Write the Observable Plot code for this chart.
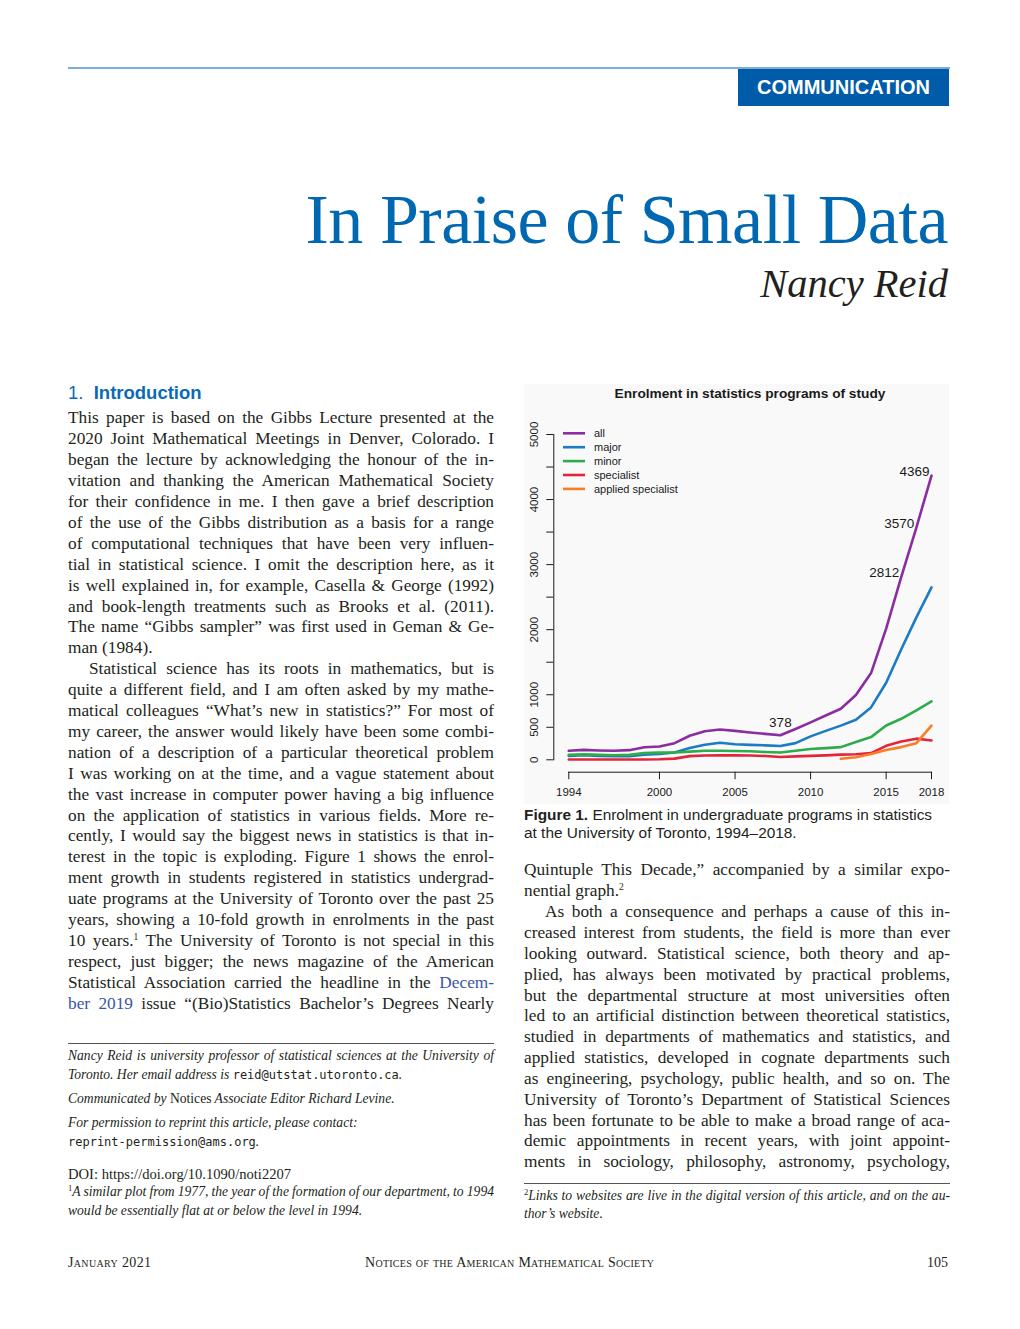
<!DOCTYPE html>
<html><head><meta charset="utf-8">
<script src="https://cdn.jsdelivr.net/npm/d3@7"></script>
<script src="https://cdn.jsdelivr.net/npm/@observablehq/plot@0.6"></script>
<style>
html,body{margin:0;padding:0;background:#fff;}
#page{position:relative;width:1020px;height:1329px;overflow:hidden;color:#231f20;font-family:"Liberation Serif","Times New Roman",serif;}
.abs{position:absolute;white-space:nowrap;}
.ln{position:absolute;white-space:nowrap;font-size:17.3px;line-height:20px;height:20px;}
.fn{position:absolute;white-space:nowrap;font-size:13.6px;line-height:16px;height:16px;font-style:italic;}
.up{font-style:normal;}
.mono{font-family:"DejaVu Sans Mono","Liberation Mono",monospace;font-style:normal;font-size:12px;}
.sup{font-size:9.5px;position:relative;top:-6px;}
.link{color:#3b55a5;}
.sans{font-family:"Liberation Sans",Arial,Helvetica,sans-serif;}
.sc{font-variant:small-caps;}
</style></head>
<body><div id="page"></div>
<script>
// ---------------- chart data ----------------
const years = [1994,1995,1996,1997,1998,1999,2000,2001,2002,2003,2004,2005,2006,2007,2008,2009,2010,2011,2012,2013,2014,2015,2016,2017,2018];
const seriesNames = ["all","major","minor","specialist","applied specialist"];
const seriesColors = ["#8c2d9f","#1c7bc4","#2eab4c","#e2253b","#fa7d26"];
const allValues = [138,153,143,138,148,194,205,256,370,440,466,444,420,398,378,474,575,680,785,995,1333,2015,2812,3570,4369];
const majorValues = [61,71,61,56,56,78,88,112,180,232,261,240,230,222,212,256,360,445,525,615,805,1185,1700,2190,2650];
const minorValues = [76,84,76,71,76,102,110,112,125,138,138,136,132,120,112,140,165,180,195,272,349,527,630,758,897];
const specialistValues = [5,5,5,5,5,5,8,18,56,66,68,68,66,58,42,52,60,68,80,85,102,215,280,325,297];
const appliedYears = [2012,2013,2014,2015,2016,2017,2018];
const appliedValues = [15,40,88,150,195,256,525];
const xTicks = [1994,2000,2005,2010,2015,2018];
const yTicks = [0,500,1000,1500,2000,2500,3000,3500,4000,4500,5000];
const yTickLabels = [0,500,1000,2000,3000,4000,5000];
const labelYears = [2008,2016,2017,2018];
const chartTitle = "Enrolment in statistics programs of study";

const table = [];
[allValues, majorValues, minorValues, specialistValues].forEach((vals, k) =>
  vals.forEach((v, i) => table.push({series: seriesNames[k], year: years[i], value: v})));
appliedValues.forEach((v, i) => table.push({series: seriesNames[4], year: appliedYears[i], value: v}));
const annot = labelYears.map(y => ({year: y, value: allValues[years.indexOf(y)]}));

const page = document.getElementById("page");
function el(tag, cls, style, html) {
  const d = document.createElement(tag);
  if (cls) d.className = cls;
  Object.assign(d.style, style || {});
  if (html != null) d.innerHTML = html;
  page.appendChild(d);
  return d;
}
function fitWidth(node, target) {
  const w = node.getBoundingClientRect().width;
  const n = node.textContent.length;
  if (n > 1) node.style.letterSpacing = ((target - w) / (n - 1)) + "px";
}

// ---------------- header ----------------
el("div", "abs", {left:"68px", top:"67px", width:"882px", height:"2px", background:"#7badd6"});
el("div", "abs", {left:"738px", top:"69px", width:"211px", height:"37px", background:"#005ca9"});
el("div", "abs sans", {left:"738px", top:"77px", width:"211px", textAlign:"center", color:"#fff", fontWeight:"bold", fontSize:"20px", lineHeight:"20px"}, "COMMUNICATION");

const title = el("div", "abs", {right:"72px", top:"185px", fontSize:"70px", lineHeight:"70px", color:"#0067b1"}, "<span>In Praise of Small Data</span>");
fitWidth(title.firstChild, 643);
el("div", "abs", {right:"72px", top:"264px", fontSize:"40.5px", lineHeight:"40px", fontStyle:"italic", color:"#231f20"}, "Nancy Reid");

el("div", "abs sans", {left:"68px", top:"384px", fontSize:"18.5px", lineHeight:"18px", color:"#0a6bb5"}, "1.&nbsp;&nbsp;<b>Introduction</b>");

// ---------------- body text ----------------
function addLines(lines, x, base0, step, W) {
  lines.forEach((L, i) => {
    const ind = L.ind || 0;
    const d = el("div", "ln", {left:(x + ind) + "px", top:(base0 + i * step - 15.9) + "px"});
    const s = document.createElement("span");
    s.innerHTML = L.t;
    d.appendChild(s);
    const target = W - ind;
    const nat = s.getBoundingClientRect().width;
    if (L.j) {
      const n = (s.textContent.match(/ /g) || []).length;
      if (n) s.style.wordSpacing = ((target - nat) / n) + "px";
    } else if (nat > target) {
      s.style.letterSpacing = ((target - nat) / s.textContent.length) + "px";
    }
  });
}
const leftCol = [
 {t:"This paper is based on the Gibbs Lecture presented at the", j:1},
 {t:"2020 Joint Mathematical Meetings in Denver, Colorado. I", j:1},
 {t:"began the lecture by acknowledging the honour of the in-", j:1},
 {t:"vitation and thanking the American Mathematical Society", j:1},
 {t:"for their confidence in me. I then gave a brief description", j:1},
 {t:"of the use of the Gibbs distribution as a basis for a range", j:1},
 {t:"of computational techniques that have been very influen-", j:1},
 {t:"tial in statistical science. I omit the description here, as it", j:1},
 {t:"is well explained in, for example, Casella &amp; George (1992)", j:1},
 {t:"and book-length treatments such as Brooks et al. (2011).", j:1},
 {t:"The name “Gibbs sampler” was first used in Geman &amp; Ge-", j:1},
 {t:"man (1984).", j:0},
 {t:"Statistical science has its roots in mathematics, but is", j:1, ind:21},
 {t:"quite a different field, and I am often asked by my mathe-", j:1},
 {t:"matical colleagues “What’s new in statistics?” For most of", j:1},
 {t:"my career, the answer would likely have been some combi-", j:1},
 {t:"nation of a description of a particular theoretical problem", j:1},
 {t:"I was working on at the time, and a vague statement about", j:1},
 {t:"the vast increase in computer power having a big influence", j:1},
 {t:"on the application of statistics in various fields. More re-", j:1},
 {t:"cently, I would say the biggest news in statistics is that in-", j:1},
 {t:"terest in the topic is exploding. Figure 1 shows the enrol-", j:1},
 {t:"ment growth in students registered in statistics undergrad-", j:1},
 {t:"uate programs at the University of Toronto over the past 25", j:1},
 {t:"years, showing a 10-fold growth in enrolments in the past", j:1},
 {t:"10 years.<span class=\"sup\">1</span> The University of Toronto is not special in this", j:1},
 {t:"respect, just bigger; the news magazine of the American", j:1},
 {t:"Statistical Association carried the headline in the <span class=\"link\">Decem-</span>", j:1},
 {t:"<span class=\"link\">ber 2019</span> issue “(Bio)Statistics Bachelor’s Degrees Nearly", j:1}
];
addLines(leftCol, 68, 424.3, 20.9, 426);

const rightCol = [
 {t:"Quintuple This Decade,” accompanied by a similar expo-", j:1},
 {t:"nential graph.<span class=\"sup\">2</span>", j:0},
 {t:"As both a consequence and perhaps a cause of this in-", j:1, ind:21},
 {t:"creased interest from students, the field is more than ever", j:1},
 {t:"looking outward. Statistical science, both theory and ap-", j:1},
 {t:"plied, has always been motivated by practical problems,", j:1},
 {t:"but the departmental structure at most universities often", j:1},
 {t:"led to an artificial distinction between theoretical statistics,", j:1},
 {t:"studied in departments of mathematics and statistics, and", j:1},
 {t:"applied statistics, developed in cognate departments such", j:1},
 {t:"as engineering, psychology, public health, and so on. The", j:1},
 {t:"University of Toronto’s Department of Statistical Sciences", j:1},
 {t:"has been fortunate to be able to make a broad range of aca-", j:1},
 {t:"demic appointments in recent years, with joint appoint-", j:1},
 {t:"ments in sociology, philosophy, astronomy, psychology,", j:1}
];
addLines(rightCol, 524, 876.3, 20.85, 426);

// ---------------- footnotes ----------------
el("div", "abs", {left:"68px", top:"1042.5px", width:"426px", height:"1px", background:"#555"});
el("div", "abs", {left:"524px", top:"1182.5px", width:"426px", height:"1px", background:"#555"});
function fn(x, base, html, justify, W) {
  const d = el("div", "fn", {left:x + "px", top:(base - 12.5) + "px"});
  const s = document.createElement("span");
  s.innerHTML = html;
  d.appendChild(s);
  if (justify) {
    const nat = s.getBoundingClientRect().width;
    const n = (s.textContent.match(/ /g) || []).length;
    s.style.wordSpacing = ((W - nat) / n) + "px";
  }
}
fn(68, 1060, "Nancy Reid is university professor of statistical sciences at the University of", true, 426);
fn(68, 1079.3, "Toronto. Her email address is <span class=\"mono\">reid@utstat.utoronto.ca</span>.");
fn(68, 1103.3, "Communicated by <span class=\"up\">Notices</span> Associate Editor Richard Levine.");
fn(68, 1127.7, "For permission to reprint this article, please contact:");
fn(68, 1146, "<span class=\"mono\">reprint-permission@ams.org</span>.");
fn(68, 1178.3, "<span class=\"up\" style=\"font-size:14.6px\">DOI: https://doi.org/10.1090/noti2207</span>");
fn(68, 1196.7, "<span class=\"sup\" style=\"font-style:normal;font-size:8.5px;top:-5px\">1</span>A similar plot from 1977, the year of the formation of our department, to 1994", true, 426);
fn(68, 1215, "would be essentially flat at or below the level in 1994.");
fn(524, 1200.7, "<span class=\"sup\" style=\"font-style:normal;font-size:8.5px;top:-5px\">2</span>Links to websites are live in the digital version of this article, and on the au-", true, 426);
fn(524, 1218.3, "thor’s website.");

// ---------------- footer ----------------
const f1 = el("div", "abs sc", {left:"68px", top:"1255px", fontSize:"14px", lineHeight:"16px"}, "<span>January 2021</span>");
fitWidth(f1.firstChild, 83);
const f2 = el("div", "abs sc", {left:"365px", top:"1255px", fontSize:"14px", lineHeight:"16px"}, "<span>Notices of the American Mathematical Society</span>");
fitWidth(f2.firstChild, 289);
el("div", "abs", {right:"72px", top:"1255px", fontSize:"14px", lineHeight:"16px"}, "105");

// ---------------- figure ----------------
const panel = el("div", "abs", {left:"524px", top:"384px", width:"425px", height:"420px", background:"#f9f9f9"});
const W = 425, H = 418;
const chart = Plot.plot({
  width: W, height: H,
  marginTop: 48, marginBottom: 44.7, marginLeft: 44.3, marginRight: 18,
  style: {background: "#f9f9f9", fontFamily: "'Liberation Sans', Arial, Helvetica, sans-serif", fontSize: "11px", color: "#1a1a1a", overflow: "visible"},
  x: {domain: [years[0], years[years.length - 1]], axis: null},
  y: {domain: [yTicks[0], yTicks[yTicks.length - 1]], axis: null},
  color: {domain: seriesNames, range: seriesColors},
  marks: [
    Plot.axisY({ticks: yTicks, tickFormat: d => yTickLabels.includes(d) ? String(d) : "", tickSize: 7, tickPadding: 9, tickRotate: -90, dx: -15, label: null, stroke: "#1a1a1a", fontSize: 11.5}),
    Plot.frame({anchor: "left", dx: -15, stroke: "#1a1a1a"}),
    Plot.axisX({ticks: xTicks, tickFormat: d => String(d), tickSize: 7.5, tickPadding: 8.5, dy: 12.4, label: null, stroke: "#1a1a1a", fontSize: 11.5}),
    Plot.frame({anchor: "bottom", dy: 12.4, stroke: "#1a1a1a"}),
    Plot.line(table, {x: "year", y: "value", z: "series", stroke: "series", strokeWidth: 2.6, curve: "linear"}),
    Plot.text(annot.filter(d => d.year !== labelYears[0]), {x: "year", y: "value", text: d => String(d.value), textAnchor: "end", dx: -2, dy: -4, fontSize: 13.5, fill: "#1a1a1a"}),
    Plot.text(annot.filter(d => d.year === labelYears[0]), {x: "year", y: "value", text: d => String(d.value), dy: -13, fontSize: 13.5, fill: "#1a1a1a"}),
    () => {
      const g = d3.create("svg:g");
      seriesNames.forEach((name, i) => {
        const y = 47.3 + i * 13.9;
        g.append("line").attr("x1", 39).attr("x2", 61).attr("y1", y).attr("y2", y)
          .attr("stroke", seriesColors[i]).attr("stroke-width", 2.6);
        g.append("text").attr("x", 70).attr("y", y).attr("dy", "0.35em")
          .attr("text-anchor", "start")
          .attr("font-size", 11).attr("fill", "#1a1a1a").text(name);
      });
      return g.node();
    }
  ]
});
chart.style.position = "absolute";
chart.style.left = "0px";
chart.style.top = "2px";
panel.appendChild(chart);
const ct = document.createElement("div");
ct.className = "abs sans";
Object.assign(ct.style, {left: "0px", width: "452px", top: "3px", textAlign: "center", fontWeight: "bold", fontSize: "13.7px", lineHeight: "13px", color: "#1a1a1a"});
ct.textContent = chartTitle;
panel.appendChild(ct);

// caption
el("div", "abs sans", {left:"524px", top:"806px", fontSize:"15.4px", lineHeight:"17.6px", color:"#231f20"},
  "<b>Figure 1.</b> Enrolment in undergraduate programs in statistics<br>at the University of Toronto, 1994–2018.");
</script>
</body></html>
